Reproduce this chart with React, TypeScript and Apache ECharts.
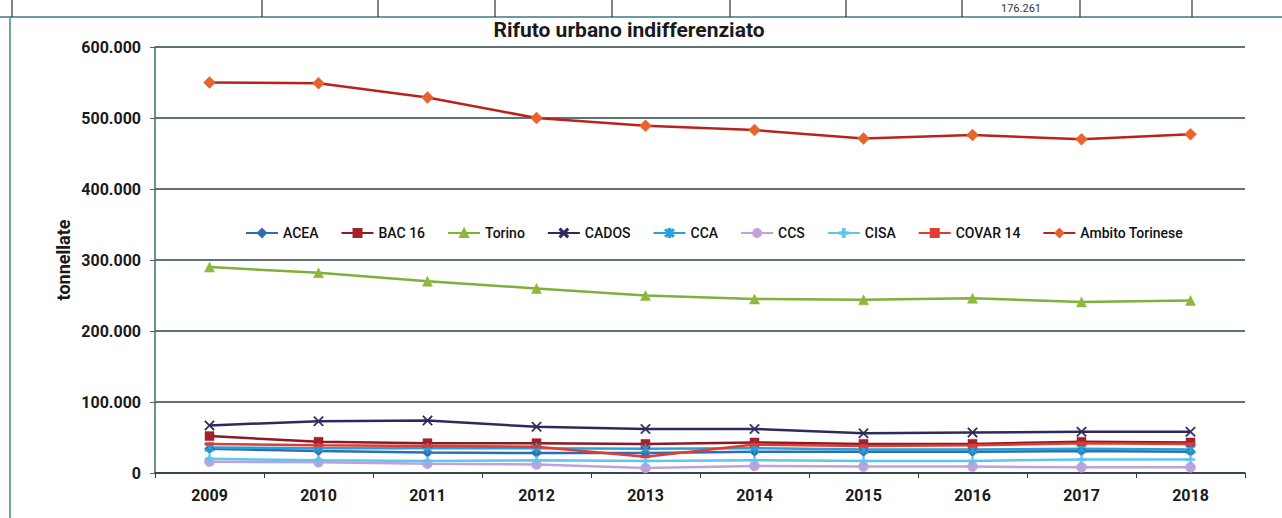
import React, { useEffect, useRef } from "react";
import * as echarts from "echarts";

const years = ["2009", "2010", "2011", "2012", "2013", "2014", "2015", "2016", "2017", "2018"];
const acea = [34000, 31000, 29000, 28000, 28000, 30000, 30000, 30000, 31000, 30000];
const bac16 = [52000, 44000, 42000, 42000, 41000, 43000, 41000, 41000, 44000, 43000];
const torino = [290000, 282000, 270000, 260000, 250000, 245000, 244000, 246000, 241000, 243000];
const cados = [67000, 73000, 74000, 65000, 62000, 62000, 56000, 57000, 58000, 58000];
const cca = [36000, 35000, 35000, 35000, 34000, 35000, 33000, 33000, 34000, 33000];
const ccs = [16000, 15000, 13000, 12000, 7000, 10000, 9000, 9000, 8000, 8000];
const cisa = [20000, 18000, 17000, 18000, 17000, 18000, 17000, 17000, 19000, 19000];
const covar14 = [41000, 39000, 38000, 37000, 23000, 40000, 38000, 39000, 42000, 41000];
const ambito = [550000, 549000, 529000, 500000, 489000, 483000, 471000, 476000, 470000, 477000];

const seriesNames = ["ACEA", "BAC 16", "Torino", "CADOS", "CCA", "CCS", "CISA", "COVAR 14", "Ambito Torinese"];
const title = "Rifuto urbano indifferenziato";
const yName = "tonnellate";
const cellText = "176.261";

const X_SYM = "path://M1,0L5,4L9,0L10,1L6,5L10,9L9,10L5,6L1,10L0,9L4,5L0,1Z";
const PLUS_SYM = "path://M4,0H6V4H10V6H6V10H4V6H0V4H4Z";
const STAR_SYM = "path://M1,0L5,4L9,0L10,1L6,5L10,9L9,10L5,6L1,10L0,9L4,5L0,1Z M4.3,-1H5.7V11H4.3Z";

const fmt = (v: number) => String(v).replace(/\B(?=(\d{3})+(?!\d))/g, ".");

export default function App() {
  const ref = useRef<HTMLDivElement>(null);
  useEffect(() => {
    if (!ref.current) return;
    const chart = echarts.init(ref.current, undefined, { renderer: "svg" });
    const font = "Roboto, 'Noto Sans', sans-serif";
    const mk = (
      name: string,
      data: number[],
      color: string,
      symbol: string,
      size: number | number[],
      lineColor?: string,
      width = 2.5
    ) => ({
      name,
      type: "line",
      data,
      symbol,
      symbolSize: size,
      showSymbol: true,
      lineStyle: { color: lineColor || color, width },
      itemStyle: { color, borderColor: color, borderWidth: 0.5 },
    });
    const dividers = [12, 262, 378, 495, 612, 730, 846, 962, 1080, 1192];
    chart.setOption({
      animation: false,
      backgroundColor: "#ffffff",
      textStyle: { fontFamily: font },
      title: {
        text: title,
        left: 624,
        top: 14,
        textAlign: "center",
        textStyle: { fontSize: 21, fontWeight: "bold", color: "#1a1a1a", fontFamily: font },
      },
      legend: {
        left: 240,
        top: 221,
        itemWidth: 32,
        itemHeight: 10,
        itemGap: 22,
        textStyle: { fontSize: 14, fontWeight: 500, color: "#111", fontFamily: font },
        data: seriesNames,
      },
      grid: { left: 155, right: 37, top: 47, bottom: 45, containLabel: false },
      xAxis: {
        type: "category",
        data: years,
        boundaryGap: true,
        axisLine: { lineStyle: { color: "#2b3b3b", width: 1.5 } },
        axisTick: { show: true, length: 5, lineStyle: { color: "#2b3b3b" } },
        axisLabel: { fontSize: 16, fontWeight: "bold", color: "#1a1a1a", margin: 14, fontFamily: font },
        splitLine: { show: false },
      },
      yAxis: {
        type: "value",
        min: 0,
        max: 600000,
        interval: 100000,
        axisLine: { show: true, lineStyle: { color: "#3d6b6b", width: 1.5 } },
        axisTick: { show: true, length: 5, lineStyle: { color: "#3d6b6b" } },
        axisLabel: {
          fontSize: 16,
          fontWeight: "bold",
          color: "#1a1a1a",
          margin: 14,
          fontFamily: font,
          formatter: (v: number) => fmt(v),
        },
        splitLine: { show: true, lineStyle: { color: "#2a4444", width: 1.5 } },
      },
      graphic: [
        {
          type: "line",
          shape: { x1: 0, y1: 17, x2: 1282, y2: 17 },
          style: { stroke: "#3a7a86", lineWidth: 1.5 },
        },
        {
          type: "line",
          shape: { x1: 10, y1: 17, x2: 10, y2: 518 },
          style: { stroke: "#3a8a9a", lineWidth: 1.5 },
        },
        ...dividers.map((x) => ({
          type: "line",
          shape: { x1: x, y1: 0, x2: x, y2: 17 },
          style: { stroke: "#333", lineWidth: 1.2 },
        })),
        {
          type: "text",
          x: 1021,
          y: 14,
          style: {
            text: cellText,
            align: "center",
            verticalAlign: "bottom",
            font: "11px Roboto, sans-serif",
            fill: "#333",
          },
        },
        {
          type: "text",
          x: 63,
          y: 260,
          rotation: Math.PI / 2,
          style: {
            text: yName,
            align: "center",
            verticalAlign: "middle",
            font: "bold 18px Roboto, sans-serif",
            fill: "#1a1a1a",
          },
        },
      ],
      series: [
        mk(seriesNames[0], acea, "#2E6DB4", "diamond", 10),
        mk(seriesNames[1], bac16, "#A3222A", "rect", 9, "#8B1A22"),
        mk(seriesNames[2], torino, "#8DB83A", "triangle", 10, "#7FB03A"),
        mk(seriesNames[3], cados, "#2F2A5E", X_SYM, 10),
        mk(seriesNames[4], cca, "#2AA0D8", STAR_SYM, 10),
        mk(seriesNames[5], ccs, "#BFA2DD", "circle", 10),
        mk(seriesNames[6], cisa, "#5EC5EE", PLUS_SYM, 9),
        mk(seriesNames[7], covar14, "#E03C31", "rect", [9, 2.5]),
        mk(seriesNames[8], ambito, "#E8642C", "diamond", 12, "#B8231E", 2.5),
      ],
    });
    return () => chart.dispose();
  }, []);
  return (
    <div
      ref={ref}
      style={{ position: "absolute", left: 0, top: 0, width: 1282, height: 518 }}
    />
  );
}
